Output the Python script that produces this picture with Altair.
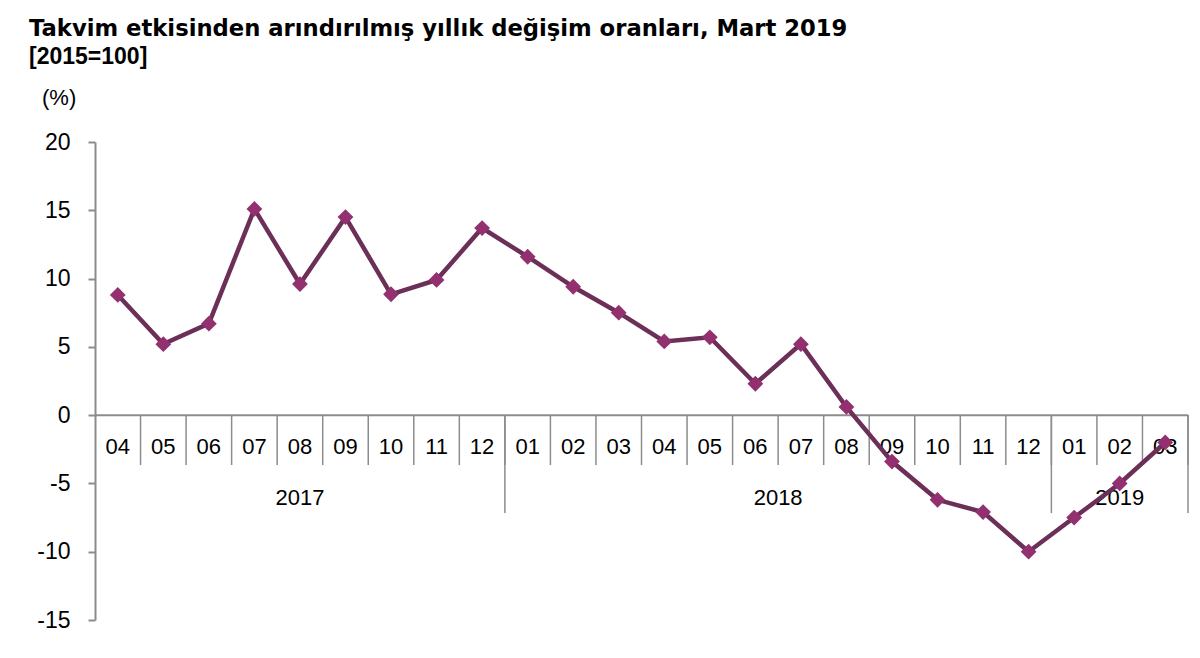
import altair as alt
import pandas as pd

# ---- data ----
months = ["04", "05", "06", "07", "08", "09", "10", "11", "12",
          "01", "02", "03", "04", "05", "06", "07", "08", "09", "10", "11", "12",
          "01", "02", "03"]
years = ["2017"] * 9 + ["2018"] * 12 + ["2019"] * 3
values = [8.8, 5.2, 6.7, 15.1, 9.6, 14.5, 8.85, 9.9, 13.7,
          11.6, 9.4, 7.5, 5.4, 5.7, 2.3, 5.2, 0.6, -3.4, -6.2, -7.1, -10.0,
          -7.5, -5.0, -2.0]
y_ticks = [-15, -10, -5, 0, 5, 10, 15, 20]

title_line1 = "Takvim etkisinden arındırılmış yıllık değişim oranları, Mart 2019"
title_line2 = "[2015=100]"
unit_label = "(%)"

FONT = "Liberation Sans"
TITLE_FONT = "DejaVu Sans"
LINE_COLOR = "#6B2F58"
MARK_COLOR = "#93306F"
AXIS_COLOR = "#8C8C8C"

W, H = 1093, 478

df = pd.DataFrame({
    "idx": list(range(len(months))),
    "month": months,
    "year": years,
    "value": values,
})
df["pos"] = df["idx"] + 0.5

bounds = pd.DataFrame({"b": list(range(1, len(months) + 1))})
year_bounds = pd.DataFrame({
    "b": [i for i in range(1, len(months)) if years[i] != years[i - 1]] + [len(months)]
})
year_df = df.groupby("year", as_index=False)["pos"].mean()

xscale = alt.Scale(domain=[0, len(months)], nice=False, zero=False)
yscale = alt.Scale(domain=[-15, 20], nice=False, zero=False)

line = alt.Chart(df).mark_line(color=LINE_COLOR, strokeWidth=4.5).encode(
    x=alt.X("pos:Q", scale=xscale, axis=None),
    y=alt.Y("value:Q", scale=yscale,
            axis=alt.Axis(values=y_ticks, title=None, grid=False,
                          tickSize=7, tickColor=AXIS_COLOR, tickWidth=2,
                          domainColor=AXIS_COLOR, domainWidth=2,
                          labelFontSize=23, labelColor="black",
                          labelExpr="toString(datum.value)",
                          labelPadding=18, labelFont=FONT)),
)

points = alt.Chart(df).mark_point(shape="diamond", filled=True, size=250,
                                  color=MARK_COLOR, opacity=1).encode(
    x=alt.X("pos:Q", scale=xscale, axis=None),
    y=alt.Y("value:Q", scale=yscale),
)

zero_rule = alt.Chart(pd.DataFrame({"z": [0]})).mark_rule(
    color=AXIS_COLOR, strokeWidth=2).encode(
    y=alt.Y("z:Q", scale=yscale),
)

month_sep = alt.Chart(bounds).mark_rule(color=AXIS_COLOR, strokeWidth=1.5).encode(
    x=alt.X("b:Q", scale=xscale, axis=None),
    y=alt.value(273),
    y2=alt.value(323),
)

year_sep = alt.Chart(year_bounds).mark_rule(color=AXIS_COLOR, strokeWidth=1.5).encode(
    x=alt.X("b:Q", scale=xscale, axis=None),
    y=alt.value(273),
    y2=alt.value(371),
)

month_labels = alt.Chart(df).mark_text(fontSize=22, font=FONT, color="black",
                                       baseline="middle", align="center").encode(
    x=alt.X("pos:Q", scale=xscale, axis=None),
    y=alt.value(305),
    text=alt.Text("month:N"),
)

year_labels = alt.Chart(year_df).mark_text(fontSize=22, font=FONT, color="black",
                                           baseline="middle", align="center").encode(
    x=alt.X("pos:Q", scale=xscale, axis=None),
    y=alt.value(356),
    text=alt.Text("year:N"),
)


def label(txt, x, y, bold=False, size=22, font=FONT):
    return alt.Chart(pd.DataFrame({"t": [txt]})).mark_text(
        fontSize=size, font=font, fontWeight="bold" if bold else "normal",
        color="black", align="left", baseline="alphabetic").encode(
        x=alt.value(x), y=alt.value(y), text=alt.Text("t:N"))


t1 = label(title_line1, -66, -106, bold=True, size=22.7, font=TITLE_FONT)
t2 = label(title_line2, -66, -78, bold=True, size=23)
t3 = label(unit_label, -53, -37, bold=False, size=22)

chart = alt.layer(
    zero_rule, month_sep, year_sep, month_labels, year_labels,
    line, points, t1, t2, t3,
).properties(
    width=W, height=H,
    autosize=alt.AutoSizeParams(type="none"),
    padding={"left": 87, "top": 134, "right": 4, "bottom": 30},
).configure_view(strokeWidth=0)

chart.save("out.html", embed_options={"renderer": "svg", "actions": False})
